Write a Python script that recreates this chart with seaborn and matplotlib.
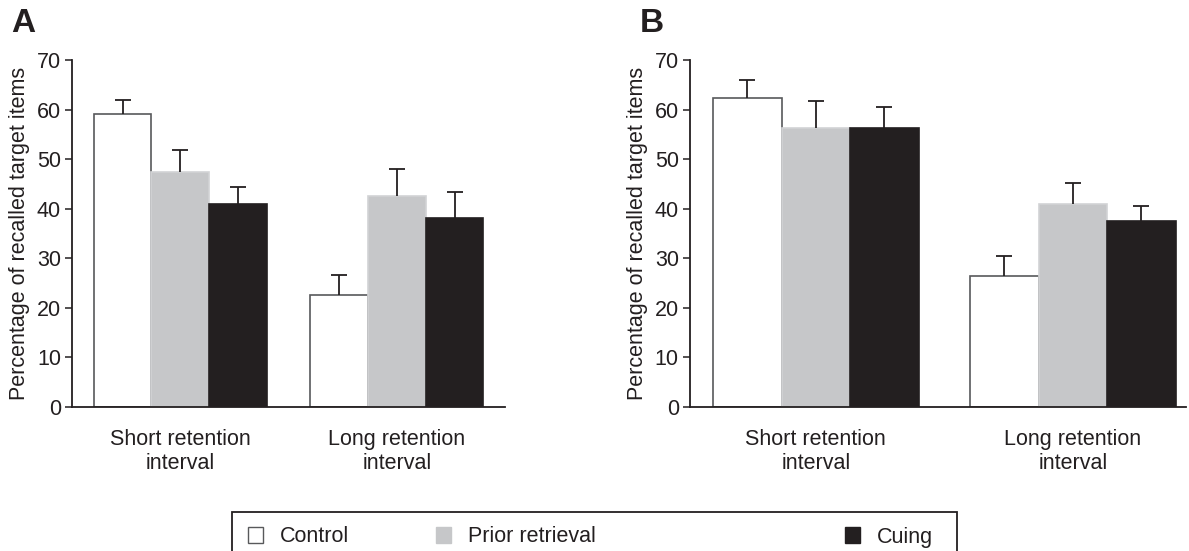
import seaborn as sns
import matplotlib.pyplot as plt
import pandas as pd
from matplotlib.patches import Patch, Rectangle

# data (mean %, upper SE)
intervals = ["Short retention\ninterval", "Long retention\ninterval"]
conditions = ["Control", "Prior retrieval", "Cuing"]

a_control = [59.2, 22.5]
a_prior = [47.4, 42.5]
a_cuing = [40.9, 38.2]
a_control_err = [2.8, 4.1]
a_prior_err = [4.4, 5.6]
a_cuing_err = [3.5, 5.1]

b_control = [62.4, 26.4]
b_prior = [56.2, 40.9]
b_cuing = [56.2, 37.6]
b_control_err = [3.6, 4.1]
b_prior_err = [5.5, 4.2]
b_cuing_err = [4.4, 3.0]

colors = {"Control": "#ffffff", "Prior retrieval": "#c6c7c9", "Cuing": "#231f20"}
edges = {"Control": "#58595b", "Prior retrieval": "#d2d3d5", "Cuing": "#231f20"}
ink = "#231f20"
fs = 15.5

sns.set_style("ticks")
plt.rcParams['font.family'] = ['Liberation Sans', 'DejaVu Sans']
plt.rcParams['font.size'] = fs


def make_df(ctrl, prior, cue):
    rows = []
    for cond, vals in zip(conditions, [ctrl, prior, cue]):
        for iv, v in zip(intervals, vals):
            rows.append({"interval": iv, "condition": cond, "pct": v})
    return pd.DataFrame(rows)


def panel(ax, means, errs, xlim):
    df = make_df(*means)
    sns.barplot(data=df, x="interval", y="pct", hue="condition",
                hue_order=conditions, order=intervals, palette=colors,
                errorbar=None, width=0.8, saturation=1, legend=False, ax=ax)
    for cont, cond, err in zip(ax.containers, conditions, errs):
        xs = []
        ys = []
        for bar in cont:
            bar.set_edgecolor(edges[cond])
            bar.set_linewidth(1.2)
            xs.append(bar.get_x() + bar.get_width() / 2)
            ys.append(bar.get_height())
        eb = ax.errorbar(xs, ys, yerr=[[0] * len(err), err], fmt="none",
                         ecolor=ink, elinewidth=1.3, capsize=6, capthick=1.3,
                         zorder=1)
        eb[1][0].set_visible(False)  # drop the lower cap
    ax.set_ylim(0, 70)
    ax.set_yticks(range(0, 71, 10))
    ax.set_xlim(*xlim)
    ax.set_xlabel("")
    ax.set_ylabel("Percentage of recalled target items", fontsize=fs, color=ink, labelpad=5)
    ax.tick_params(axis="x", length=0, pad=16, labelsize=fs, colors=ink)
    ax.tick_params(axis="y", length=5, width=1.1, labelsize=fs, colors=ink, pad=3)
    for s in ["left", "bottom"]:
        ax.spines[s].set_linewidth(1.3)
        ax.spines[s].set_color(ink)
    sns.despine(ax=ax)


fig = plt.figure(figsize=(11.89, 5.51), dpi=100)
ax1 = fig.add_axes([0.0606, 0.2613, 0.3642, 0.6298])
ax2 = fig.add_axes([0.5803, 0.2613, 0.4170, 0.6298])

panel(ax1, [a_control, a_prior, a_cuing], [a_control_err, a_prior_err, a_cuing_err], (-0.5, 1.5))
panel(ax2, [b_control, b_prior, b_cuing], [b_control_err, b_prior_err, b_cuing_err], (-0.49, 1.44))

fig.text(0.009, 0.985, "A", fontsize=24, fontweight="bold", va="top", color=ink)
fig.text(0.538, 0.985, "B", fontsize=24, fontweight="bold", va="top", color=ink)

# legend: frame plus three entries
fig.add_artist(Rectangle((232 / 1189, -0.05), 725 / 1189, 0.05 + 39 / 551,
                         transform=fig.transFigure, fill=False,
                         edgecolor=ink, linewidth=1.3))
entry_x = [248 / 1189, 436 / 1189, 845 / 1189]
for cond, x in zip(conditions, entry_x):
    h = Patch(facecolor=colors[cond], edgecolor=edges[cond] if cond != "Prior retrieval" else colors[cond], linewidth=1)
    fig.legend(handles=[h], labels=[cond], loc="center left",
               bbox_to_anchor=(x, 14 / 551), frameon=False, fontsize=fs,
               handlelength=0.7, handleheight=0.7, handletextpad=0.8,
               borderpad=0, borderaxespad=0, labelcolor=ink)

fig.savefig("out.png", dpi=100)
